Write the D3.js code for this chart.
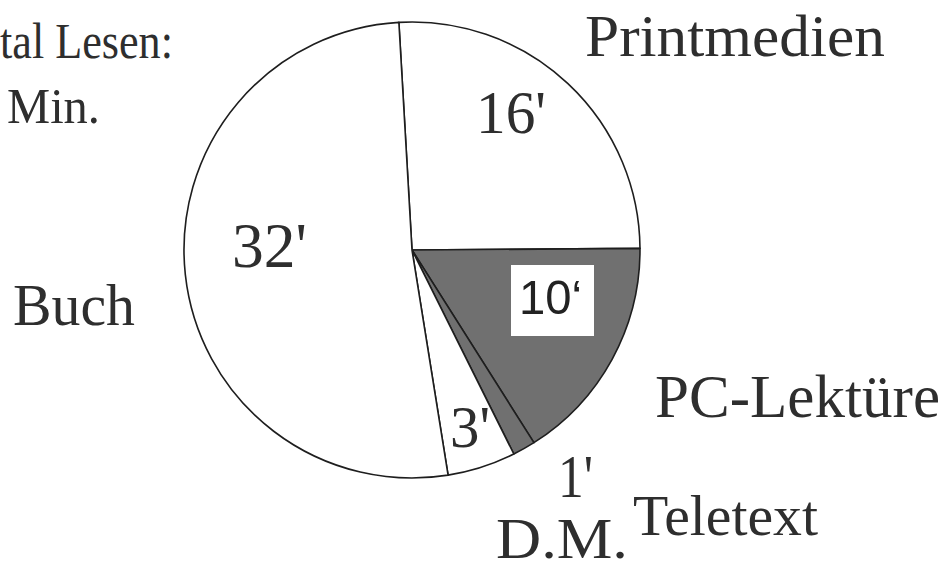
<!DOCTYPE html>
<html>
<head>
<meta charset="utf-8">
<title>Lesen</title>
<script src="https://cdn.jsdelivr.net/npm/d3@7/dist/d3.min.js"></script>
<style>
  body { margin: 0; background: #fff; }
  text { font-family: "Liberation Serif", "Times New Roman", serif; fill: #2e2e2e; }
</style>
</head>
<body>
<svg id="chart"></svg>
<script>
// data (minutes per day)
var categories = ["Printmedien", "PC-Lektüre", "Teletext", "D.M.", "Buch"];
var minutes = [16, 10, 1, 3, 32];
var valueLabels = ["16'", "10\u2018", "1'", "3'", "32'"];
var shaded = [false, true, true, false, false];
var totalLines = ["tal Lesen:", "Min."];

var width = 950, height = 571;
var cx = 412, cy = 250, radius = 228;
var startDeg = -3.3;

// where the texts sit (layout only)
var namePos = [
  {x: 585, y: 56, size: 60, len: 300},
  {x: 655, y: 417, size: 61, len: 285},
  {x: 633, y: 535, size: 58, len: 185},
  {x: 496, y: 558, size: 56, len: 132},
  {x: 13, y: 325, size: 60, len: 122}
];
var valuePos = [
  {x: 476, y: 133, size: 62, len: 70},
  {x: 519, y: 314, size: 49, len: 63},
  {x: 558, y: 497, size: 62, len: 35},
  {x: 450, y: 447, size: 60, len: 40},
  {x: 232, y: 267, size: 64, len: 75}
];
var totalPos = [
  {x: 0, y: 58, size: 50, len: 173},
  {x: 7, y: 123, size: 50, len: 93}
];

var svg = d3.select("#chart")
    .attr("width", width)
    .attr("height", height);

var pie = d3.pie()
    .sort(null)
    .startAngle(startDeg * Math.PI / 180)
    .endAngle((startDeg + 360) * Math.PI / 180);

var arc = d3.arc()
    .innerRadius(0)
    .outerRadius(radius);

var slices = svg.append("g")
    .attr("transform", "translate(" + cx + "," + cy + ")")
    .selectAll("path")
    .data(pie(minutes))
    .enter().append("path")
    .attr("d", arc)
    .attr("fill", function(d, i) { return shaded[i] ? "#707070" : "#fff"; })
    .attr("stroke", "#1e1e1e")
    .attr("stroke-width", 1.6)
    .attr("stroke-linejoin", "round");

// white box behind the 10' label
svg.append("rect")
    .attr("x", 511)
    .attr("y", 265)
    .attr("width", 83)
    .attr("height", 71)
    .attr("fill", "#fff");

function addText(str, p, sans) {
  var t = svg.append("text")
      .attr("x", p.x)
      .attr("y", p.y)
      .style("font-size", p.size + "px")
      .text(str);
  if (sans) t.style("font-family", "'Liberation Sans', Arial, sans-serif").style("fill", "#222");
  if (p.len) t.attr("textLength", p.len).attr("lengthAdjust", "spacingAndGlyphs");
  return t;
}

categories.forEach(function(c, i) { addText(c, namePos[i]); });
valueLabels.forEach(function(v, i) { addText(v, valuePos[i], i == 1); });
totalLines.forEach(function(s, i) { addText(s, totalPos[i]); });
</script>
</body>
</html>
